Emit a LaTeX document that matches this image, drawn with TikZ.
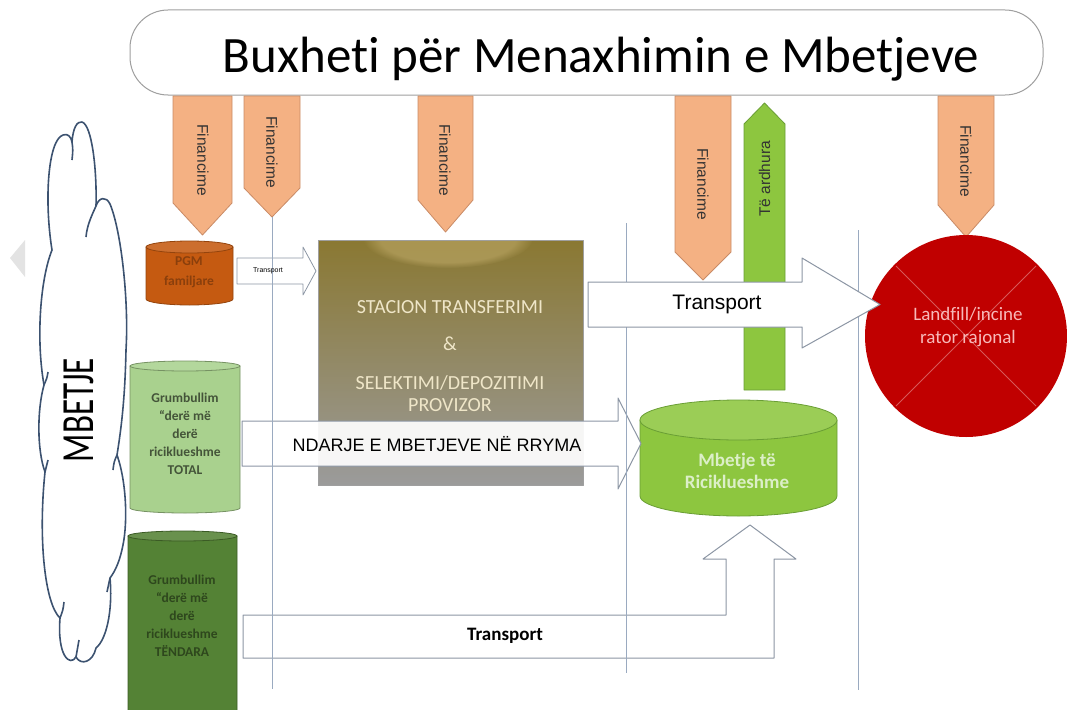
\documentclass[tikz,border=0pt]{standalone}
\usepackage{fontspec}
\setmainfont{Carlito}[Ligatures={NoCommon,NoRequired,NoContextual}]
\newfontfamily\arialf{Liberation Sans}
\usetikzlibrary{fadings}
\definecolor{orangeA}{HTML}{F4B183}
\definecolor{orangeB}{HTML}{C98B66}
\definecolor{greenA}{HTML}{8DC63F}
\definecolor{greenB}{HTML}{6A9E35}
\definecolor{pgmc}{HTML}{C55A11}
\definecolor{lgreen}{HTML}{A9D18E}
\definecolor{dgreen}{HTML}{548235}
\definecolor{redc}{HTML}{C00000}
\definecolor{vlinec}{HTML}{9AAAC0}
\definecolor{cloudc}{HTML}{3C5270}
\definecolor{arrowb}{HTML}{8C96A4}
\definecolor{stTop}{HTML}{8A7832}
\definecolor{stMid}{HTML}{9A8F6A}
\definecolor{stBot}{HTML}{9B9B9B}
\definecolor{stText}{HTML}{EFE6C8}
\newcommand\finshape[5]{\path[finarrow] (#1,#3) -- (#2,#3) -- (#2,#4) -- ({(#1+#2)/2},#5) -- (#1,#4) -- cycle;}
\newcommand\cylshape[7]{%
  \path[fill=#6, draw=#7, line width=0.8] (#1,#3) -- (#1,#4) arc[start angle=180, end angle=0, x radius={(#2-#1)/2}, y radius=#5] -- (#2,#3) -- cycle;
  \path[fill=#6!88!white, draw=#7, line width=0.8] ({(#1+#2)/2},#3) ellipse [x radius={(#2-#1)/2}, y radius=#5];}
\tikzset{
  finarrow/.style={fill=orangeA, draw=orangeB, line width=0.8},
  fintext/.style={font=\arialf\fontsize{15.5}{15.5}\selectfont, text=black!80, inner sep=0pt},
  blockarrow/.style={fill=white, draw=arrowb, line width=1},
  vline/.style={draw=vlinec, line width=1},
  cyltext/.style={align=center, font=\bfseries\fontsize{13.5}{18}\selectfont, inner sep=0pt},
  cloudline/.style={draw=cloudc, line width=1.6},
}
\begin{document}
\begin{tikzpicture}[x=1pt, y=-1pt, line join=round]
\useasboundingbox (0,0) rectangle (1067,709);
% slide artifact
\fill[gray!22] (25,240) -- (10,258) -- (25,277) -- cycle;
% banner
\draw[fill=white, draw=gray!75, line width=1, rounded corners=38] (130,10) rectangle (1043,95);
\node[font=\fontsize{51}{51}\selectfont, anchor=base, inner sep=0pt] (title) at (601,73) {Buxheti për Menaxhimin e Mbetjeve};
% financing arrows
\finshape{173}{232}{96}{203}{235}
\finshape{244}{300}{96}{188}{217}
\finshape{418}{473}{96}{200}{232}
\finshape{675}{731}{96}{252}{280}
\finshape{938}{994}{96}{205}{237}
\path[fill=greenA, draw=greenB, line width=0.8] (744,390) -- (744,124) -- (764.5,103) -- (785,124) -- (785,390) -- cycle;
% cloud
\path[fill=white, cloudline] (52,250)
 .. controls (44,200) and (48,140) .. (63,135)
 .. controls (68,133) and (71,137) .. (72,142)
 .. controls (73,128) and (77,121) .. (82,122)
 .. controls (92,125) and (97,170) .. (96,206)
 .. controls (99,197) and (106,196) .. (110,204)
 .. controls (121,230) and (129,300) .. (126,350)
 .. controls (125,400) and (121,430) .. (117,455)
 .. controls (126,480) and (128,520) .. (123,545)
 .. controls (120,560) and (116,570) .. (110,578)
 .. controls (113,612) and (106,640) .. (96,648)
 .. controls (93,662) and (81,666) .. (76,657)
 .. controls (70,667) and (57,656) .. (60,618)
 .. controls (45,604) and (38,540) .. (45,472)
 .. controls (37,450) and (37,410) .. (44,385)
 .. controls (36,340) and (40,280) .. (52,250) -- cycle;
\draw[cloudline] (72,142) .. controls (73,150) .. (72,160);
\draw[cloudline] (96,206) .. controls (92,215) and (87,225) .. (86,237);
\draw[cloudline] (117,455) .. controls (114,462) .. (113,470);
\draw[cloudline] (110,578) .. controls (108,585) .. (107,592);
\draw[cloudline] (76,657) .. controls (77,648) .. (79,640);
\draw[cloudline] (60,618) .. controls (63,610) .. (64,602);
\draw[cloudline] (45,472) .. controls (47,466) .. (48,460);
\draw[cloudline] (44,385) .. controls (47,378) .. (48,372);
\node[rotate=90, inner sep=0pt] (mbetje) at (79,410) {\scalebox{0.72}[1]{\fontsize{46}{46}\selectfont MBETJE}};
% cylinders
\cylshape{146}{233}{247}{299}{6}{pgmc}{pgmc!75!black}
\cylshape{130}{240}{366}{508}{5}{lgreen}{lgreen!70!black}
\cylshape{128}{237}{536}{712}{5}{dgreen}{dgreen!70!black}
\cylshape{640}{837}{420}{496}{20}{greenA}{greenB}
% station box
\shade[top color=stTop, middle color=stMid, bottom color=stBot] (318,240) rectangle (583,485);
\begin{scope}
\clip (318,240) rectangle (583,485);
\fill[color={rgb,255:red,200;green,178;blue,112}, opacity=0.5, path fading=circle with fuzzy edge 20 percent] (448,238) ellipse [x radius=85, y radius=30];
\end{scope}
\draw[gray!75, line width=0.8] (318,240) rectangle (583,485);
% block arrows (under lines)
\path[blockarrow, fill opacity=0.92] (242,421) -- (618,421) -- (618,398) -- (641,443.5) -- (618,489) -- (618,466) -- (242,466) -- cycle;
\path[blockarrow] (243,615) -- (726,615) -- (726,559) -- (703,559) -- (750,525) -- (796,559) -- (774,559) -- (774,658) -- (243,658) -- cycle;
\path[blockarrow, line width=0.8] (237,258) -- (303,258) -- (303,247) -- (316,271) -- (303,295) -- (303,284) -- (237,284) -- cycle;
% vertical lines
\draw[vline] (272,217) -- (272,689);
\draw[vline] (626,223) -- (626,673);
\draw[vline] (858,230) -- (858,690);
% landfill circle
\fill[redc] (966,336) circle [radius=101];
\draw[redc!65!white, line width=0.8] ({966-70},{336-70}) -- ({966+70},{336+70});
\draw[redc!65!white, line width=0.8] ({966+70},{336-70}) -- ({966-70},{336+70});
% big transport arrow
\path[blockarrow] (588,282) -- (802,282) -- (802,258) -- (880,304.5) -- (802,348) -- (802,327) -- (588,327) -- cycle;
% texts
\node[fintext, rotate=-90] (fin1) at (203,160) {Financime};
\node[fintext, rotate=-90] (fin2) at (272,152) {Financime};
\node[fintext, rotate=-90] (fin3) at (445,160) {Financime};
\node[fintext, rotate=-90] (fin4) at (703,184) {Financime};
\node[fintext, rotate=-90] (fin6) at (966,161) {Financime};
\node[fintext, rotate=90] (ardh) at (764.5,179) {Të ardhura};
\node[cyltext, font=\bfseries\fontsize{13.5}{20}\selectfont, text=pgmc!70!black] (pgm) at (189,272) {PGM\\familjare};
\node[font=\arialf\fontsize{7}{7}\selectfont, inner sep=0pt] (tr1) at (268,271) {Transport};
\node[align=center, text=stText, font=\fontsize{20}{22}\selectfont, inner sep=0pt] (st1) at (450,307) {STACION TRANSFERIMI};
\node[text=stText, font=\fontsize{20}{22}\selectfont, inner sep=0pt] (st2) at (450,344) {\&};
\node[align=center, text=stText, font=\fontsize{20}{22}\selectfont, inner sep=0pt] (st3) at (450,394) {SELEKTIMI/DEPOZITIMI\\PROVIZOR};
\node[font=\arialf\fontsize{18}{18}\selectfont, inner sep=0pt] (ndarje) at (437,444) {NDARJE E MBETJEVE NË RRYMA};
\node[font=\arialf\fontsize{21}{21}\selectfont, inner sep=0pt] (tr2) at (717,304) {Transport};
\node[font=\bfseries\fontsize{19}{19}\selectfont, inner sep=0pt] (tr3) at (505,636) {Transport};
\node[align=center, text={rgb,255:red,248;green,185;blue,185}, font=\fontsize{19}{23}\selectfont, inner sep=0pt] (landf) at (968,327) {Landfill/incine\\rator rajonal};
\node[align=center, text={rgb,255:red,220;green,239;blue,200}, font=\bfseries\fontsize{19}{22}\selectfont, inner sep=0pt] (ricikl) at (737,471) {Mbetje të\\Riciklueshme};
\node[cyltext, text=lgreen!40!black] (total) at (185,434) {Grumbullim\\“derë më\\derë\\riciklueshme\\TOTAL};
\node[cyltext, text=dgreen!55!black] (ndara) at (182,616) {Grumbullim\\“derë më\\derë\\riciklueshme\\TËNDARA};
\end{tikzpicture}
\end{document}
